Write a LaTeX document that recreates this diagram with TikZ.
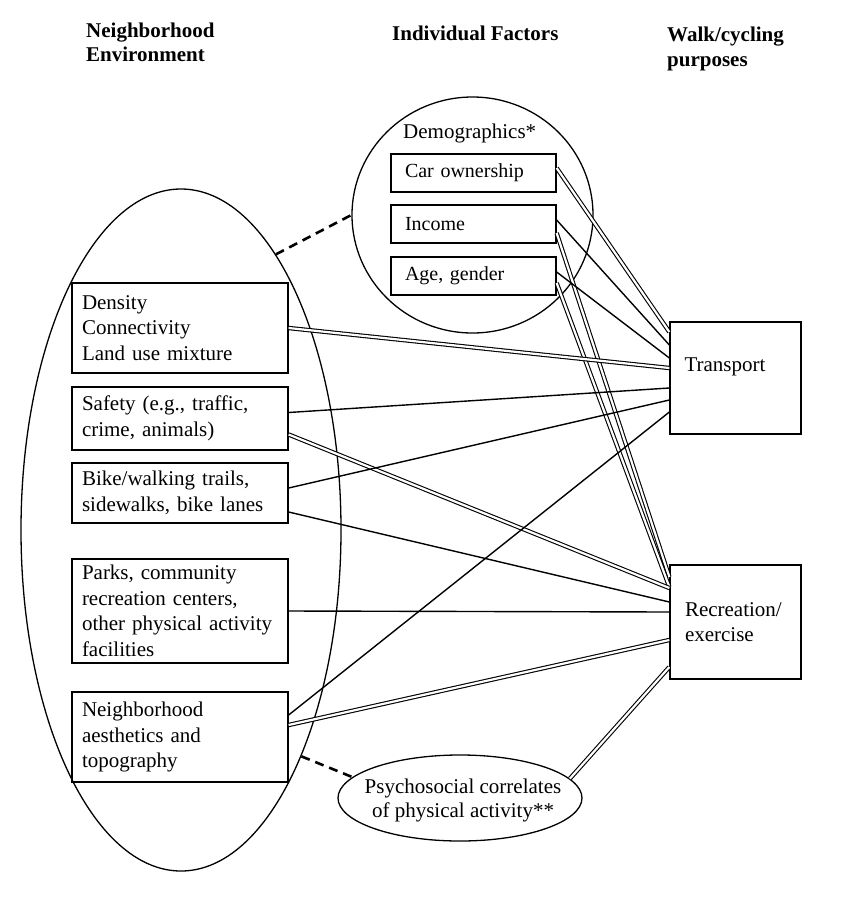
\documentclass[tikz,border=0pt]{standalone}
\usepackage{fontspec}
\setmainfont{Liberation Serif}
\usetikzlibrary{shapes.geometric}
\begin{document}
\begin{tikzpicture}[x=1pt,y=-1pt,
  txt/.style={font=\fontsize{21}{25.5}\selectfont},
  hdr/.style={font=\fontsize{21}{24.5}\selectfont\bfseries, align=left, anchor=west, inner sep=0pt},
  box/.style={draw, line width=1.3pt, txt, align=left, inner xsep=10pt, inner ysep=0pt},
  sbox/.style={box, font=\fontsize{20}{24}\selectfont, inner xsep=14pt, text width=137pt, minimum height=38pt},
  oval/.style={draw, ellipse, line width=1.3pt, inner sep=0pt},
  sline/.style={line width=1.4pt},
  dline/.style={double, double distance=2.2pt, line width=1.1pt},
  dsh/.style={line width=2.6pt, dash pattern=on 9pt off 6pt}
]
\useasboundingbox (0,0) rectangle (850,903);
% headers
\node[hdr] (h1) at (86,42.5) {Neighborhood\\Environment};
\node[hdr] (h2) at (392,33) {Individual Factors};
\node[hdr] (h3) at (667,49) {Walk/cycling\\purposes};
% big ellipse and circle
\node[oval, minimum width=320pt, minimum height=682pt] (env) at (181,530) {};
\node[oval, minimum width=241pt, minimum height=236pt] (demo) at (472.5,215) {};
\node[txt, anchor=west, inner sep=0pt] (dlab) at (403,133) {Demographics*};
% demographic boxes
\node[sbox] (car) at (473.5,173) {Car ownership};
\node[sbox] (income) at (473.5,224) {Income};
\node[sbox] (age) at (473.5,276) {Age, gender};
% environment boxes
\node[box, text width=196pt, minimum height=90pt] (density) at (180,328) {Density\\Connectivity\\Land use mixture};
\node[box, text width=196pt, minimum height=63pt] (safety) at (180,418.5) {Safety (e.g., traffic,\\crime, animals)};
\node[box, text width=196pt, minimum height=60pt] (bike) at (180,493) {Bike/walking trails,\\sidewalks, bike lanes};
\node[box, text width=196pt, minimum height=104pt] (parks) at (180,611) {Parks, community\\recreation centers,\\other physical activity\\facilities};
\node[box, text width=196pt, minimum height=90pt] (aesth) at (180,737) {Neighborhood\\aesthetics and\\topography};
% purposes
\node[draw, line width=1.3pt, minimum width=131pt, minimum height=112pt, inner sep=0pt] (tr) at (735.5,378) {};
\node[txt, anchor=west, inner sep=0pt] (trlab) at ([xshift=15pt,yshift=11pt]tr.west) {Transport};
\node[box, inner xsep=15pt, text width=101pt, minimum height=114pt] (rec) at (735.5,622) {Recreation/\\exercise};
% psychosocial
\node[oval, minimum width=244pt, minimum height=86pt] (psy) at (460,798) {};
\node[txt, align=center, inner sep=0pt, font=\fontsize{21}{24}\selectfont] (psylab) at (463,800) {Psychosocial correlates\\of physical activity**};
% connectors
\draw[dline] ([yshift=5pt]car.east) -- ([yshift=46pt]tr.west);
\draw[sline] ([yshift=4pt]income.east) -- ([yshift=33pt]tr.west);
\draw[dline] ([yshift=-9pt]income.east) -- ([yshift=45pt]rec.west);
\draw[sline] ([yshift=4pt]age.east) -- ([yshift=20pt]tr.west);
\draw[dline] ([yshift=-7pt]age.east) -- ([yshift=35pt]rec.west);
\draw[dline] (density.east) -- ([yshift=10pt]tr.west);
\draw[sline] ([yshift=6pt]safety.east) -- ([yshift=-10pt]tr.west);
\draw[dline] ([yshift=-16pt]safety.east) -- ([yshift=34pt]rec.west);
\draw[sline] ([yshift=5pt]bike.east) -- ([yshift=-22pt]tr.west);
\draw[sline] ([yshift=-19pt]bike.east) -- ([yshift=20pt]rec.west);
\draw[sline] (parks.east) -- ([yshift=10pt]rec.west);
\draw[sline] ([yshift=22pt]aesth.east) -- ([yshift=-34pt]tr.west);
\draw[dline] ([yshift=12pt]aesth.east) -- ([yshift=-18pt]rec.west);
\draw[dline] (psy.10) -- ([yshift=-45pt]rec.west);
\draw[dsh] (env.71.5) -- (demo.180);
\draw[dsh] (env.-62.7) -- (psy.169.8);
\end{tikzpicture}
\end{document}
